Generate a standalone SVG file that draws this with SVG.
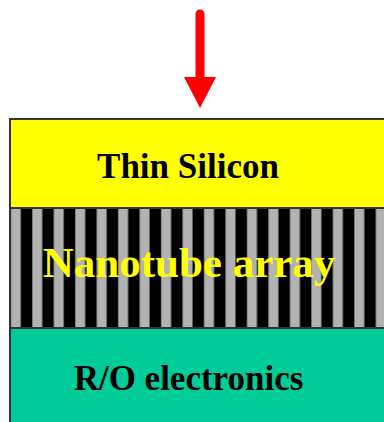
<svg xmlns="http://www.w3.org/2000/svg" width="384" height="422" viewBox="0 0 384 422">
  <style>
    .lbl { font-family: "Liberation Serif", "Times New Roman", serif; font-weight: bold; text-anchor: middle; }
    .edge { stroke: #333333; stroke-width: 2; fill: none; }
  </style>
  <defs>
    <pattern id="tubes" patternUnits="userSpaceOnUse" x="10.5" y="0" width="21.47" height="422">
      <rect x="0" y="0" width="21.47" height="422" fill="#000000"/>
      <rect x="0.5" y="0" width="9.5" height="422" fill="#b2b2b2" stroke="#8c8c8c" stroke-width="0.6"/>
    </pattern>
  </defs>
  <rect width="384" height="422" fill="#ffffff"/>

  <g id="thin-silicon">
    <rect x="10" y="119" width="380" height="89" fill="#ffff00"/>
    <text class="lbl" x="188" y="178" font-size="35" fill="#000000">Thin Silicon</text>
  </g>

  <g id="nanotube-array">
    <rect x="10" y="208" width="380" height="120" fill="url(#tubes)"/>
    <text class="lbl" x="189" y="277" font-size="43" fill="#ffff00">Nanotube array</text>
  </g>

  <g id="ro-electronics">
    <rect x="10" y="328" width="380" height="100" fill="#00cc99"/>
    <text class="lbl" x="188.5" y="390" font-size="35" fill="#000000">R/O electronics</text>
  </g>

  <g id="connectors">
    <path class="edge" d="M10,430 V119 H390"/>
    <line class="edge" x1="10" y1="208" x2="390" y2="208"/>
    <line class="edge" x1="10" y1="328" x2="390" y2="328"/>
    <g id="arrow">
      <line x1="200" y1="14" x2="200" y2="80" stroke="#ff0000" stroke-width="9" stroke-linecap="round"/>
      <polygon points="184,77 216,77 200,108" fill="#ff0000"/>
    </g>
  </g>
</svg>
